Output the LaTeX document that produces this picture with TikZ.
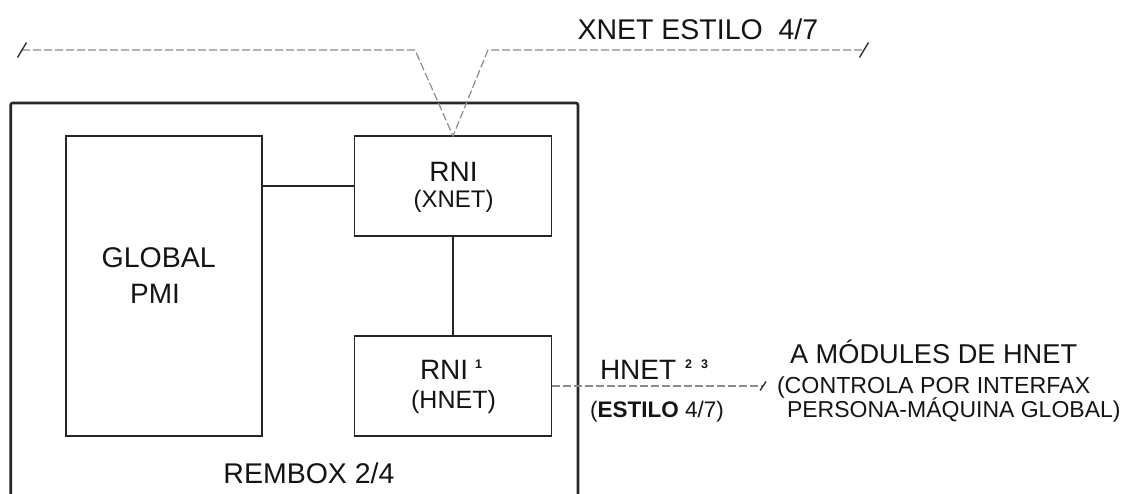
\documentclass[tikz,border=0pt]{standalone}
\usepackage{fontspec}
\setmainfont{Liberation Sans}
\usetikzlibrary{calc}
\newcommand{\fs}[1]{\fontsize{#1}{#1}\selectfont}
\newcommand{\supnum}[1]{\raisebox{10.5pt}{\fs{12.5}\bfseries #1}}
\begin{document}
\begin{tikzpicture}[x=1pt,y=-1pt,
  blk/.style={draw=black!85, line width=1.4pt, minimum width=197pt, minimum height=100pt, inner sep=0pt, outer sep=0pt},
  txt/.style={inner sep=0pt, outer sep=0pt, text=black!92},
  dashnet/.style={draw=black!45, line width=1.2pt, dash pattern=on 8pt off 3pt},
  slashmark/.style={draw=black!80, line width=1.4pt},
  outerbox/.style={draw=black!85, line width=2.6pt, rounded corners=2pt},
  link/.style={draw=black!85, line width=1.4pt}]
\useasboundingbox (0,0) rectangle (1124,494);

% outer container
\draw[outerbox] (10.7,494) -- (10.7,103) -- (578,103) -- (578,494);

% boxes
\node[blk, minimum width=196pt, minimum height=300pt] (pmi) at (164,286) {};
\node[blk] (xr) at (453,186) {};
\node[blk] (hr) at (453,386) {};

% connectors
\draw[link] (pmi.east |- xr.west) -- (xr.west);
\draw[link] (xr.south) -- (hr.north);

% XNET dashed line
\coordinate (L) at (22,50);
\coordinate (La) at (415,50);
\coordinate (Ra) at (488,50);
\coordinate (R) at (864,50);
\draw[dashnet] (L) -- (La) -- (xr.north) -- (Ra) -- (R);
\draw[slashmark] ($(L)+(-4.5,7.5)$) -- ($(L)+(4.5,-7.5)$);
\draw[slashmark] ($(R)+(-4.5,7.5)$) -- ($(R)+(4.5,-7.5)$);

% HNET dashed line
\coordinate (H) at (763,386);
\draw[dashnet] (hr.east) -- (H);
\draw[slashmark] ($(H)+(-3,4.5)$) -- ($(H)+(3,-4.5)$);

% texts
\node[txt, anchor=base west] (xlab) at (577.5,39.3) {\fs{28.5}XNET ESTILO\ \ 4/7};
\node[txt, anchor=base] (xrni) at (453.5,181.7) {\fs{28}RNI};
\node[txt, anchor=base] (xsub) at (453.5,208) {\fs{24}(XNET)};
\node[txt, anchor=base] (glob) at (158.7,268) {\fs{28.5}GLOBAL};
\node[txt, anchor=base] (pmit) at (155,303) {\fs{28}PMI};
\node[txt, anchor=base west] (hrni) at (420,379) {\fs{28}RNI\hspace{7pt}\supnum{1}};
\node[txt, anchor=base] (hsub) at (453.5,408) {\fs{25}(HNET)};
\node[txt, anchor=base west] (hlab) at (600,379) {\fs{28}HNET\hspace{9pt}\supnum{2}\hspace{9pt}\supnum{3}};
\node[txt, anchor=base west] (hsty) at (590,417) {\fs{22.5}(\textbf{ESTILO} 4/7)};
\node[txt, anchor=base west] (mod) at (790,363) {\fs{27.2}A MÓDULES DE HNET};
\node[txt, anchor=base west] (ctl1) at (777,393) {\fs{23.2}(CONTROLA POR INTERFAX};
\node[txt, anchor=base west] (ctl2) at (787,417) {\fs{23}PERSONA-MÁQUINA GLOBAL)};
\node[txt, anchor=base] (rem) at (309,483) {\fs{28.5}REMBOX 2/4};
\end{tikzpicture}
\end{document}
